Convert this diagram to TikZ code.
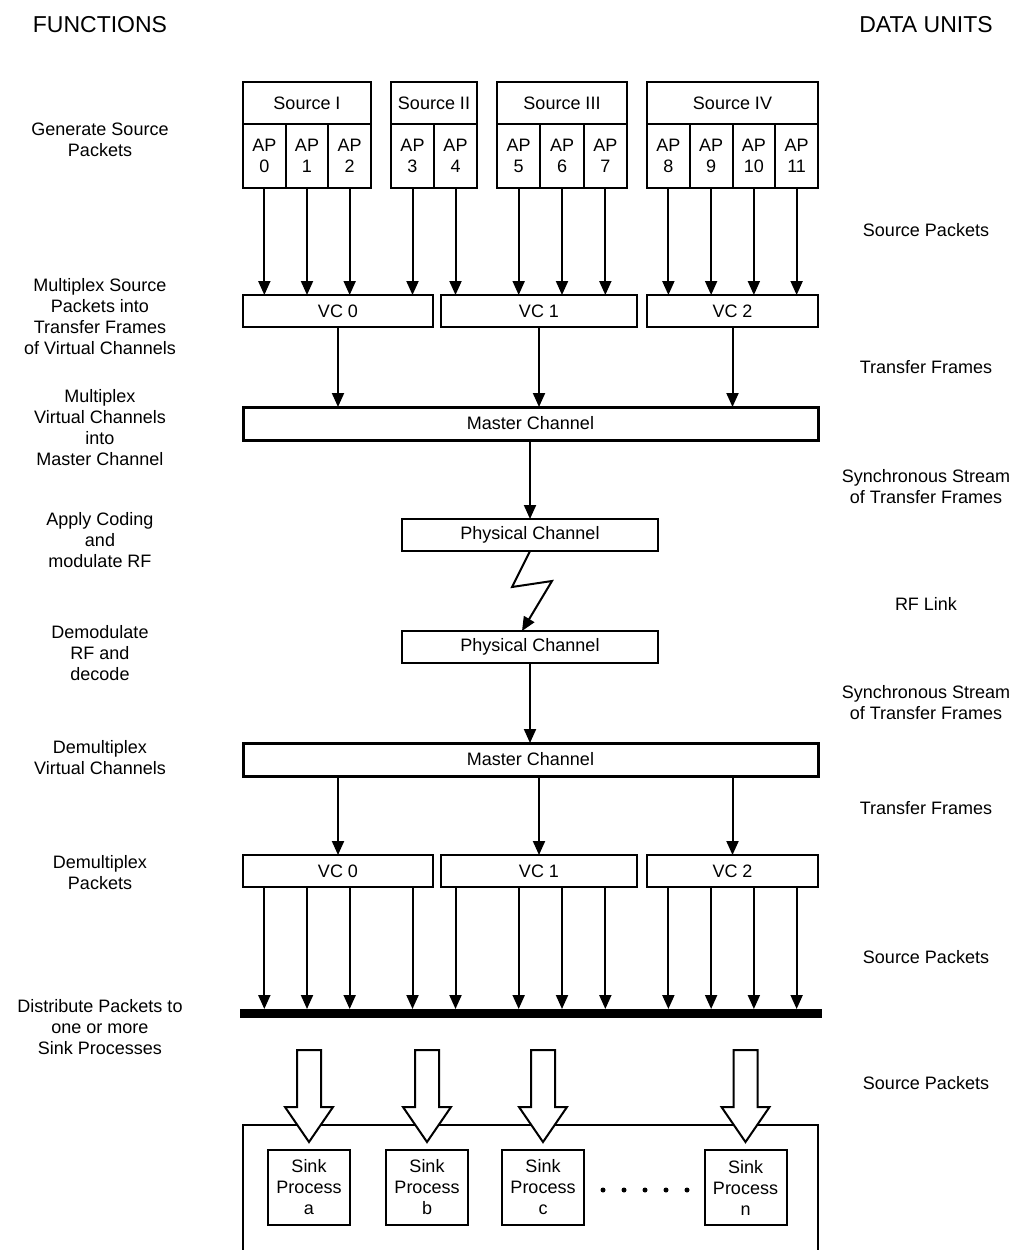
\documentclass[tikz,border=0pt]{standalone}
\usepackage{fontspec}
\setmainfont{Liberation Sans}
\usetikzlibrary{arrows.meta,calc}
\begin{document}
\begin{tikzpicture}[x=1pt,y=-1pt,
  every node/.style={font=\fontsize{18}{21}\selectfont, inner sep=0pt, outer sep=0pt, align=center},
  hdr/.style={font=\fontsize{23}{27}\selectfont},
  box/.style={draw, line width=2pt, fill=white},
  mbox/.style={draw, line width=3pt, fill=white},
  arr/.style={line width=2pt, -{Triangle[length=14pt,width=12pt]}},
  blk/.style={draw, line width=2pt, fill=white, line join=miter},
  lbl/.style={}]
\useasboundingbox (0,0) rectangle (1020,1250);
\fill[white] (0,0) rectangle (1020,1250);

% headers
\node[hdr] (fn) at (100,25) {FUNCTIONS};
\node[hdr] (du) at (926,25) {DATA UNITS};

% left labels
\node[lbl] (l1) at (100,140) {Generate Source\\Packets};
\node[lbl] (l2) at (100,317) {Multiplex Source\\Packets into\\Transfer Frames\\of Virtual Channels};
\node[lbl] (l3) at (100,428) {Multiplex\\Virtual Channels\\into\\Master Channel};
\node[lbl] (l4) at (100,540) {Apply Coding\\and\\modulate RF};
\node[lbl] (l5) at (100,653) {Demodulate\\RF and\\decode};
\node[lbl] (l6) at (100,758) {Demultiplex\\Virtual Channels};
\node[lbl] (l7) at (100,873) {Demultiplex\\Packets};
\node[lbl] (l8) at (100,1027) {Distribute Packets to\\one or more\\Sink Processes};

% right labels
\node[lbl] (r1) at (926,230) {Source Packets};
\node[lbl] (r2) at (926,367) {Transfer Frames};
\node[lbl] (r3) at (926,487) {Synchronous Stream\\of Transfer Frames};
\node[lbl] (r4) at (926,604) {RF Link};
\node[lbl] (r5) at (926,703) {Synchronous Stream\\of Transfer Frames};
\node[lbl] (r6) at (926,808) {Transfer Frames};
\node[lbl] (r7) at (926,957) {Source Packets};
\node[lbl] (r8) at (926,1083) {Source Packets};

% sources
\node[box, minimum width=128, minimum height=42] (s1) at (307,103) {Source I};
\node[box, minimum width=86, minimum height=42] (s2) at (434,103) {Source II};
\node[box, minimum width=130, minimum height=42] (s3) at (562,103) {Source III};
\node[box, minimum width=171, minimum height=42] (s4) at (732.5,103) {Source IV};

\foreach \n/\x/\w in {0/264.33/42.67, 1/307/42.67, 2/349.67/42.67,
                      3/412.5/43, 4/455.5/43,
                      5/518.67/43.33, 6/562/43.33, 7/605.33/43.33,
                      8/668.375/42.75, 9/711.125/42.75, 10/753.875/42.75, 11/796.625/42.75}
  \node[box, minimum width=\w, minimum height=64] (ap\n) at (\x,156) {AP\\\n};

% virtual channels (upper)
\node[box, minimum width=190, minimum height=32] (vcA0) at (338,311) {VC 0};
\node[box, minimum width=196, minimum height=32] (vcA1) at (539,311) {VC 1};
\node[box, minimum width=171, minimum height=32] (vcA2) at (732.5,311) {VC 2};

% master channel (upper)
\node[mbox, minimum width=575, minimum height=33] (m1) at (530.5,423.5) {Master Channel};

% physical channels
\node[box, minimum width=256, minimum height=32] (p1) at (530,535) {Physical Channel};
\node[box, minimum width=256, minimum height=32] (p2) at (530,647) {Physical Channel};

% master channel (lower)
\node[mbox, minimum width=575, minimum height=33] (m2) at (530.5,759.5) {Master Channel};

% virtual channels (lower)
\node[box, minimum width=190, minimum height=32] (vcB0) at (338,871) {VC 0};
\node[box, minimum width=196, minimum height=32] (vcB1) at (539,871) {VC 1};
\node[box, minimum width=171, minimum height=32] (vcB2) at (732.5,871) {VC 2};

% bus
\node[fill=black, minimum width=582, minimum height=9] (bus) at (531,1013.5) {};

% sink area
\node[box, minimum width=575, minimum height=132] (area) at (530.5,1191) {};
\node[box, minimum width=82, minimum height=75] (ska) at (309,1187.5) {Sink\\Process\\a};
\node[box, minimum width=82, minimum height=75] (skb) at (427,1187.5) {Sink\\Process\\b};
\node[box, minimum width=82, minimum height=75] (skc) at (543,1187.5) {Sink\\Process\\c};
\node[box, minimum width=82, minimum height=75] (skn) at (745.5,1187.5) {Sink\\Process\\n};
\foreach \x in {603,624,645,666,687} \fill (\x,1190) circle (2.5);

% arrows: APs to VCs
\foreach \n/\v in {0/0,1/0,2/0,3/0,4/1,5/1,6/1,7/1,8/2,9/2,10/2,11/2}
  \draw[arr] (ap\n.south) -- (ap\n.south |- vcA\v.north);
% VC to master
\foreach \i in {0,1,2}
  \draw[arr] (vcA\i.south) -- (vcA\i.south |- m1.north);
% master to physical
\draw[arr] (p1.north |- m1.south) -- (p1.north);
% RF link
\draw[arr, line join=miter] (p1.south) -- ++(-18,36) -- ++(40,-6) -- ($(p2.north)+(-8,0)$);
% physical to master
\draw[arr] (p2.south) -- (p2.south |- m2.north);
% master to VCs
\foreach \i in {0,1,2}
  \draw[arr] (vcB\i.north |- m2.south) -- (vcB\i.north);
% VCs to bus
\foreach \n/\v in {0/0,1/0,2/0,3/0,4/1,5/1,6/1,7/1,8/2,9/2,10/2,11/2}
  \draw[arr] (ap\n |- vcB\v.south) -- (ap\n |- bus.north);

% block arrows to sink processes
\foreach \s in {ska,skb,skc,skn} {
  \coordinate (t) at ($(\s.north)+(0,-8)$);
  \draw[blk] ($(t)+(-12,-92)$) -- ($(t)+(12,-92)$) -- ($(t)+(12,-35)$) -- ($(t)+(24,-35)$)
    -- (t) -- ($(t)+(-24,-35)$) -- ($(t)+(-12,-35)$) -- cycle;
}
\end{tikzpicture}
\end{document}
